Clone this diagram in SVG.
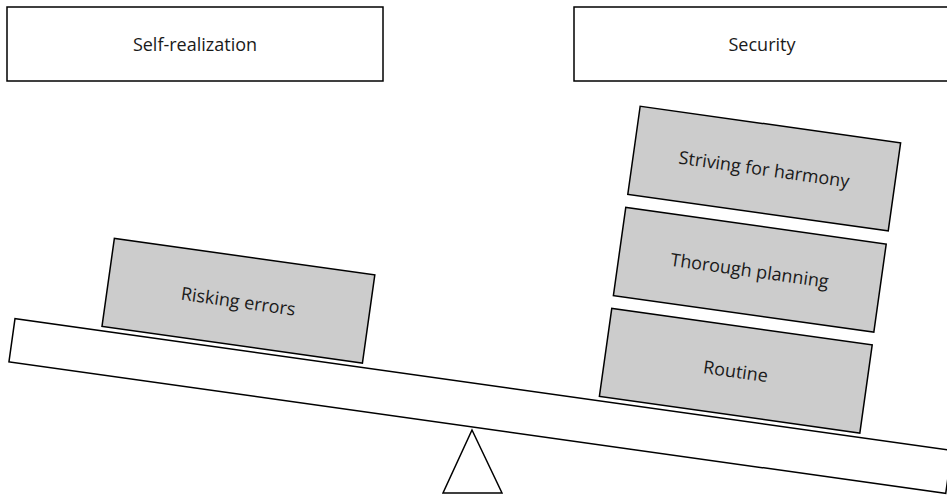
<svg xmlns="http://www.w3.org/2000/svg" width="947" height="497" viewBox="0 0 947 497">
  <style>
    .frame { fill: #ffffff; stroke: #000000; stroke-width: 1.5; }
    .weight { fill: #cccccc; stroke: #000000; stroke-width: 1.5; }
    .label { font-family: "Open Sans", "Noto Sans", sans-serif; font-size: 18px; fill: #1a1a1a; text-anchor: middle; dominant-baseline: central; }
  </style>

  <!-- Headings over each side of the scale -->
  <g id="self-realization">
    <rect class="frame" x="7" y="7" width="376" height="74"/>
    <text class="label" x="195" y="44">Self-realization</text>
  </g>
  <g id="security">
    <rect class="frame" x="574" y="7" width="376" height="74"/>
    <text class="label" x="762" y="44">Security</text>
  </g>

  <!-- Fulcrum and tilted beam -->
  <g id="fulcrum">
    <polygon class="frame" points="472,430 502,493 443,493"/>
  </g>
  <g id="beam">
    <rect class="frame" x="0" y="0" width="946" height="43.5" transform="translate(15,318.7) rotate(8)"/>
  </g>

  <!-- Weights resting on the beam -->
  <g id="risking-errors" transform="translate(238.4,300.7) rotate(8)">
    <rect class="weight" x="-131.5" y="-44.5" width="263" height="89"/>
    <text class="label" x="0" y="0">Risking errors</text>
  </g>
  <g id="striving-for-harmony" transform="translate(764.2,168.6) rotate(8)">
    <rect class="weight" x="-131.5" y="-44.5" width="263" height="89"/>
    <text class="label" x="0" y="0">Striving for harmony</text>
  </g>
  <g id="thorough-planning" transform="translate(749.8,269.8) rotate(8)">
    <rect class="weight" x="-131.5" y="-44.5" width="263" height="89"/>
    <text class="label" x="0" y="0">Thorough planning</text>
  </g>
  <g id="routine" transform="translate(735.8,370.7) rotate(8)">
    <rect class="weight" x="-131.5" y="-44.5" width="263" height="89"/>
    <text class="label" x="0" y="0">Routine</text>
  </g>

  <g id="connectors"/>
</svg>
